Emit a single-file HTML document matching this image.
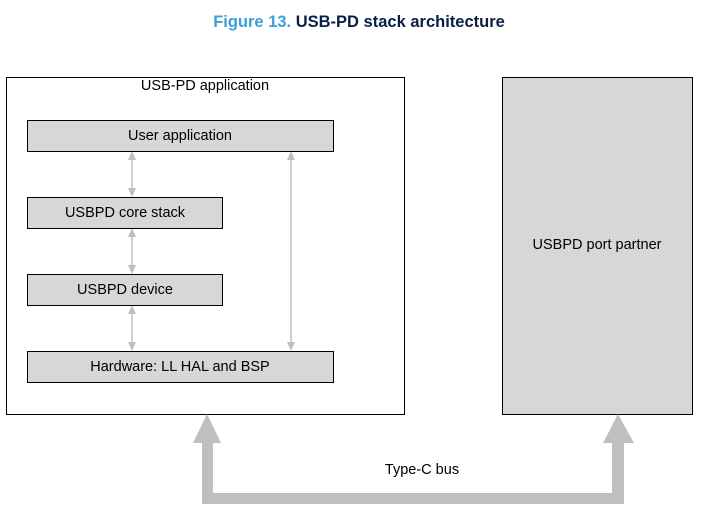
<!DOCTYPE html>
<html><head><style>
body{margin:0;background:#fff;width:705px;height:516px;overflow:hidden;font-family:"Liberation Sans",Arial,sans-serif}
</style></head><body>
<svg width="705" height="516" viewBox="0 0 705 516" xmlns="http://www.w3.org/2000/svg" font-family="Liberation Sans, Arial, sans-serif">
<text x="359" y="27" text-anchor="middle" font-size="16.5" font-weight="bold"><tspan fill="#3aa0d8">Figure 13. </tspan><tspan fill="#0b1f44">USB-PD stack architecture</tspan></text>
<rect x="6.5" y="77.5" width="398" height="337" fill="#fff" stroke="#000"/>
<text x="205" y="90" text-anchor="middle" font-size="14.5">USB-PD application</text>
<rect x="502.5" y="77.5" width="190" height="337" fill="#d7d7d7" stroke="#000"/>
<text x="597" y="249" text-anchor="middle" font-size="14.5">USBPD port partner</text>
<g stroke="#bfbfbf" stroke-width="1.5" fill="#bfbfbf">
<line x1="132" y1="156" x2="132" y2="192"/><line x1="132" y1="233" x2="132" y2="269"/><line x1="132" y1="310" x2="132" y2="346"/><line x1="291" y1="156" x2="291" y2="346"/>
</g>
<g fill="#bfbfbf">
<polygon points="132,151 128,160 136,160"/><polygon points="132,197 128,188 136,188"/>
<polygon points="132,228 128,237 136,237"/><polygon points="132,274 128,265 136,265"/>
<polygon points="132,305 128,314 136,314"/><polygon points="132,351 128,342 136,342"/>
<polygon points="291,151 287,160 295,160"/><polygon points="291,351 287,342 295,342"/>
</g>
<g fill="#d7d7d7" stroke="#000">
<rect x="27.5" y="120.5" width="306" height="31"/>
<rect x="27.5" y="197.5" width="195" height="31"/>
<rect x="27.5" y="274.5" width="195" height="31"/>
<rect x="27.5" y="351.5" width="306" height="31"/>
</g>
<g font-size="14.5" text-anchor="middle">
<text x="180" y="140">User application</text>
<text x="125" y="217">USBPD core stack</text>
<text x="125" y="294">USBPD device</text>
<text x="180" y="371">Hardware: LL HAL and BSP</text>
</g>
<path d="M202,443 V504 H624 V443 H612 V493 H213 V443 Z" fill="#bfbfbf"/>
<polygon points="207,414 193,443 221,443" fill="#bfbfbf"/>
<polygon points="618,414 603,443 634,443" fill="#bfbfbf"/>
<text x="422" y="474" text-anchor="middle" font-size="14.5">Type-C bus</text>
</svg>
</body></html>
